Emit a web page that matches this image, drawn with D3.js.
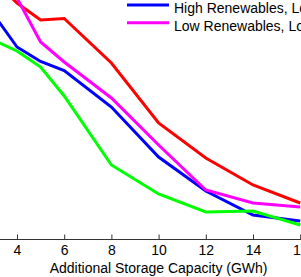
<!DOCTYPE html>
<html>
<head>
<meta charset="utf-8">
<script src="https://cdn.jsdelivr.net/npm/d3@7"></script>
<style>
  html, body { margin: 0; padding: 0; background: #fff; }
  svg { display: block; overflow: hidden; }
  text { font-family: "Liberation Sans", Arial, sans-serif; }
</style>
</head>
<body>
<svg id="chart" width="301" height="277"></svg>
<script>
var storage = [3, 4, 5, 6, 8, 10, 12, 14, 16];
var xTicks = [4, 6, 8, 10, 12, 14, 16];

// no y axis in the picture, so values are in arbitrary units
var highHigh = [25.9, 23.6, 21.9, 22.05, 17.6, 11.6, 8.1, 5.4, 3.6];
var highLow  = [22.5, 19.2, 17.75, 16.85, 13.2, 8.2, 4.8, 2.4, 1.8];
var lowLow   = [26.9, 24.1, 19.7, 17.7, 14.1, 9.4, 4.9, 3.6, 3.2];
var lowHigh  = [19.9, 18.8, 17.2, 14.3, 7.4, 4.5, 2.7, 2.8, 1.4];

var seriesNames = ["High Renewables, High Storage Cost", "High Renewables, Low Storage Cost",
                   "Low Renewables, Low Storage Cost", "Low Renewables, High Storage Cost"];
var seriesColors = ["#ff0000", "#0000ff", "#ff00ff", "#00ff00"];

var series = [highHigh, highLow, lowLow, lowHigh].map(function(vals, i){
    return {
        name: seriesNames[i],
        color: seriesColors[i],
        values: vals.map(function(v, j){ return [storage[j], v]; })
    };
});

var svg = d3.select("#chart");

var x = d3.scaleLinear().domain([4, 16]).range([17, 300.2]);
var y = d3.scaleLinear().domain([0, 23.9]).range([239, 0]);

var line = d3.line()
    .x(function(d){ return x(d[0]); })
    .y(function(d){ return y(d[1]); });

svg.selectAll("path.series")
    .data(series)
    .enter()
    .append("path")
    .attr("class", "series")
    .attr("fill", "none")
    .attr("stroke", function(d){ return d.color; })
    .attr("stroke-width", 3)
    .attr("stroke-linejoin", "miter")
    .attr("d", function(d){ return line(d.values); });

// x axis, matlab style ticks pointing inward
var axisG = svg.append("g")
    .attr("transform", "translate(0,239.5)")
    .call(d3.axisBottom(x).tickValues(xTicks).tickSizeInner(-5).tickSizeOuter(0).tickPadding(5.5));

axisG.select(".domain").remove();
axisG.selectAll(".tick line").attr("stroke", "#333");
axisG.selectAll(".tick text")
    .attr("fill", "#000")
    .style("font-size", "14px");

svg.append("line")
    .attr("x1", 0).attr("x2", 301)
    .attr("y1", 239.5).attr("y2", 239.5)
    .attr("stroke", "#333");

svg.append("text")
    .attr("x", x(10))
    .attr("y", 273)
    .attr("text-anchor", "middle")
    .style("font-size", "14px")
    .text("Additional Storage Capacity (GWh)");

// legend, only the lower entries fall inside the window
var legend = svg.append("g");
var legendItems = [series[1], series[2]];
var legendY = d3.scalePoint().domain(legendItems.map(function(d){ return d.name; })).range([5, 22.7]);

var item = legend.selectAll("g")
    .data(legendItems)
    .enter()
    .append("g")
    .attr("transform", function(d){ return "translate(0," + legendY(d.name) + ")"; });

item.append("line")
    .attr("x1", 127).attr("x2", 169)
    .attr("stroke", function(d){ return d.color; })
    .attr("stroke-width", 3);

item.append("text")
    .attr("x", 174)
    .attr("y", 8.3)
    .style("font-size", "14px")
    .text(function(d){ return d.name; });
</script>
</body>
</html>
